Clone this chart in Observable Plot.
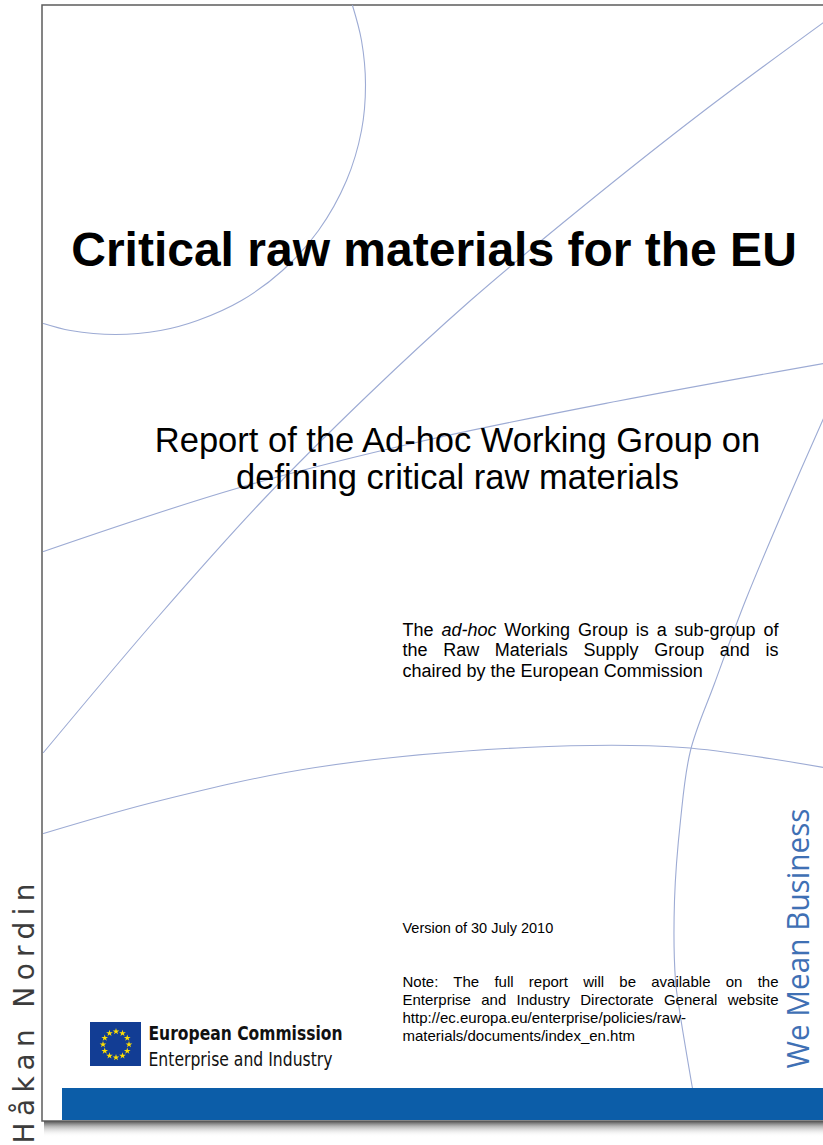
<!DOCTYPE html>
<html>
<head>
<meta charset="utf-8">
<script src="https://cdn.jsdelivr.net/npm/d3@7"></script>
<script src="https://cdn.jsdelivr.net/npm/@observablehq/plot@0.6"></script>
<style>
  html, body { margin: 0; padding: 0; background: #fff; overflow: hidden; }
  #chart svg { display: block; }
</style>
</head>
<body>
<div id="chart"></div>
<script>
// ---------- Texts ----------
const titleLines = ["Critical raw materials for the EU"];
const subtitleLines = ["Report of the Ad-hoc Working Group on", "defining critical raw materials"];
const paragraphLines = [
  "The ad-hoc Working Group is a sub-group of",
  "the Raw Materials Supply Group and is",
  "chaired by the European Commission"
];
const paragraphJustified = [true, true, false];
const italicWords = ["ad-hoc"];
const versionLines = ["Version of 30 July 2010"];
const noteLines = [
  "Note: The full report will be available on the",
  "Enterprise and Industry Directorate General website",
  "http://ec.europa.eu/enterprise/policies/raw-",
  "materials/documents/index_en.htm"
];
const noteJustified = [true, true, false, false];
const logoTitle = ["European Commission"];
const logoSubtitle = ["Enterprise and Industry"];
const sloganLines = ["We Mean Business"];
const authorLines = ["Håkan Nordin"];
const euStarHours = [0, 1, 2, 3, 4, 5, 6, 7, 8, 9, 10, 11];

// ---------- Decorative curves ----------
const topLeftCircle = [[352,5],[361,40],[365,84],[361,130],[346,180],[318,230],[282,270],[241,300],[197,320],[160,330],[115,334],[70,330],[43,323]];
const diagonalLine = [[823,22],[700,113],[580,208],[470,300],[367,395],[262,500],[157,617],[43,752]];
const risingLine = [[43,551],[236,488],[420,441],[615,401],[823,363]];
const lowerArc = [[43,833],[160,800],[315,767],[525,747],[682,747],[823,767]];
const rightArc = [[823,418],[787,500],[745,600],[714,683],[690,750],[680,820],[674,900],[675,980],[679,1010],[692,1088]];
const curves = {topLeftCircle, diagonalLine, risingLine, lowerArc, rightArc};

// ---------- Layout ----------
const W = 823, H = 1145;
const layout = {
  page: {x1: 42, x2: 840, y1: 5, y2: 1121},
  bar: {x1: 62, x2: 823, y1: 1088, y2: 1120},
  shadow: {x1: 44, x2: 823, y1: 1121, y2: 1137},
  title: {x: 433.5, y: 265, size: 48},
  subtitle: {x: 457, y: 451, size: 34.5, lh: 37.5},
  paragraph: {x: 402, y: 635, size: 18, lh: 20.8, right: 778},
  version: {x: 402, y: 932, size: 14.5},
  note: {x: 402, y: 986, size: 15, lh: 18, right: 778},
  logoBox: {x1: 90, x2: 141, y1: 1022, y2: 1066},
  stars: {cx: 115.5, cy: 1044, r: 13},
  logoTitle: {x: 148, y: 1039, size: 20, length: 194},
  logoSubtitle: {x: 148, y: 1065, size: 20, length: 184},
  slogan: {x: 808, y: 1068, size: 31, length: 260},
  author: {x: 33, y: 1143, size: 28, length: 260}
};

const rows = (texts, L, justified = []) =>
  texts.map((text, i) => ({text, x: L.x, y: L.y + i * (L.lh || 0), justify: justified[i] || false, right: L.right, length: L.length}));

const curveData = Object.entries(curves).flatMap(([name, pts]) => pts.map(([x, y]) => ({name, x, y})));
const titleData = rows(titleLines, layout.title);
const subtitleData = rows(subtitleLines, layout.subtitle);
const paragraphData = rows(paragraphLines, layout.paragraph, paragraphJustified);
const versionData = rows(versionLines, layout.version);
const noteData = rows(noteLines, layout.note, noteJustified);
const logoTitleData = rows(logoTitle, layout.logoTitle);
const logoSubtitleData = rows(logoSubtitle, layout.logoSubtitle);
const sloganData = rows(sloganLines, layout.slogan);
const authorData = rows(authorLines, layout.author);

const stroke = "#9dabd4";
const sans = "'Liberation Sans', Arial, Helvetica, sans-serif";
const narrow = "'Liberation Sans Narrow', 'DejaVu Sans Condensed', sans-serif";
const txt = (data, opts) => Plot.text(data, {x: "x", y: "y", text: "text", lineAnchor: "bottom", textAnchor: "start", fill: "#000", ...opts});

const svg = Plot.plot({
  width: W,
  height: H,
  margin: 0,
  x: {domain: [0, W], range: [0, W], axis: null},
  y: {domain: [0, H], range: [0, H], axis: null},
  style: {background: "#fff", overflow: "hidden"},
  marks: [
    Plot.rect([layout.shadow], {x1: "x1", x2: "x2", y1: "y1", y2: "y2", fill: "url(#pageShadow)"}),
    Plot.rect([layout.page], {x1: "x1", x2: "x2", y1: "y1", y2: "y2", fill: "#fff", stroke: "#5c5c5c", strokeWidth: 1.5}),
    Plot.line(curveData, {x: "x", y: "y", z: "name", curve: "catmull-rom", stroke, strokeWidth: 1.1}),
    Plot.rect([layout.bar], {x1: "x1", x2: "x2", y1: "y1", y2: "y2", fill: "#0c5da8"}),
    txt(titleData, {fontSize: layout.title.size, fontWeight: "bold", fontFamily: sans, textAnchor: "middle"}),
    txt(subtitleData, {fontSize: layout.subtitle.size, fontFamily: sans, textAnchor: "middle"}),
    txt(paragraphData, {fontSize: layout.paragraph.size, fontFamily: sans}),
    txt(versionData, {fontSize: layout.version.size, fontFamily: sans}),
    txt(noteData, {fontSize: layout.note.size, fontFamily: sans}),
    Plot.rect([layout.logoBox], {x1: "x1", x2: "x2", y1: "y1", y2: "y2", fill: "#123d94"}),
    Plot.dot(euStarHours, {
      x: (h) => layout.stars.cx + layout.stars.r * Math.sin(h * Math.PI / 6),
      y: (h) => layout.stars.cy - layout.stars.r * Math.cos(h * Math.PI / 6),
      symbol: "star", r: 2.1, fill: "#ffe000", stroke: "none"
    }),
    txt(logoTitleData, {fontSize: layout.logoTitle.size, fontWeight: "bold", fontFamily: narrow, fill: "#111"}),
    txt(logoSubtitleData, {fontSize: layout.logoSubtitle.size, fontFamily: narrow, fill: "#111"}),
    txt(sloganData, {rotate: -90, fontSize: layout.slogan.size, fontFamily: "'Open Sans', 'Noto Sans', sans-serif", fill: "#3f70b4"}),
    txt(authorData, {rotate: -90, fontSize: layout.author.size, fontFamily: "'DejaVu Sans', sans-serif", fill: "#3c3c3c"})
  ]
});

document.getElementById("chart").append(svg);
const root = d3.select(svg);

// gradient for page shadow
const defs = root.insert("defs", ":first-child");
const grad = defs.append("linearGradient").attr("id", "pageShadow").attr("x1", 0).attr("x2", 0).attr("y1", 0).attr("y2", 1);
grad.append("stop").attr("offset", "0%").attr("stop-color", "#3a3a3a").attr("stop-opacity", 0.9);
grad.append("stop").attr("offset", "35%").attr("stop-color", "#777").attr("stop-opacity", 0.5);
grad.append("stop").attr("offset", "100%").attr("stop-color", "#fff").attr("stop-opacity", 0);

// find text element by its content
const allTexts = Array.from(svg.querySelectorAll("text"));
const findText = (t) => allTexts.find((el) => el.textContent === t);

// italic words
for (const d of paragraphData) {
  const el = findText(d.text);
  if (!el) continue;
  for (const w of italicWords) {
    if (d.text.includes(w)) {
      const [a, b] = d.text.split(w);
      el.textContent = "";
      el.style.whiteSpace = "pre";
      const s = d3.select(el);
      s.append("tspan").text(a);
      s.append("tspan").attr("font-style", "italic").text(w);
      s.append("tspan").text(b);
    }
  }
  d.el = el;
}
for (const d of noteData) d.el = findText(d.text);

// justify
for (const d of [...paragraphData, ...noteData]) {
  if (!d.el || !d.justify) continue;
  const len = d.el.getComputedTextLength();
  const spaces = (d.text.match(/ /g) || []).length;
  if (spaces > 0) d.el.style.wordSpacing = `${(d.right - d.x - len) / spaces}px`;
}

// fit widths
for (const d of [...logoTitleData, ...logoSubtitleData, ...sloganData]) {
  const el = findText(d.text);
  if (!el) continue;
  el.setAttribute("textLength", d.length);
  el.setAttribute("lengthAdjust", "spacingAndGlyphs");
}
for (const d of authorData) {
  const el = findText(d.text);
  if (!el) continue;
  el.setAttribute("textLength", d.length);
  el.setAttribute("lengthAdjust", "spacing");
}
</script>
</body>
</html>
